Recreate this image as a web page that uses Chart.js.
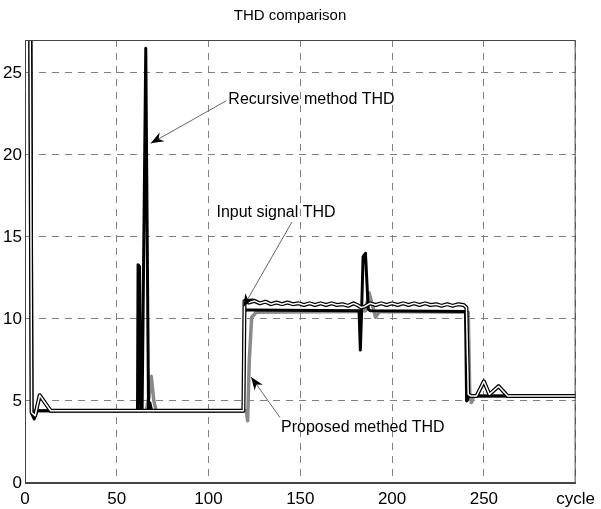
<!DOCTYPE html>
<html>
<head>
<meta charset="utf-8">
<script src="https://cdn.jsdelivr.net/npm/chart.js@4.4.1/dist/chart.umd.min.js"></script>
<style>
  body { margin: 0; background: #fff; }
  canvas { display: block; }
</style>
</head>
<body>
<canvas id="thdChart" width="601" height="509"></canvas>
<script>
// cycle, THD value pairs
const inputThd = [[2.6,35],[3.6,4.3],[5.5,4.1],[8,5.35],[14,4.4],[119,4.4],[119.6,11.1],[122,11.0],[125,11.1],
  [128,10.95],[131,11.05],[134,10.9],[137,11.0],[140,10.9],[143,11.0],[146,10.9],[149,10.95],[152,10.85],[155,10.95],
  [158,10.85],[161,10.95],[164,10.85],[167,10.95],[170,10.85],[173,10.9],[176,10.8],[179,10.95],[181,10.85],[183,10.7],
  [185,10.75],[188,10.95],[191,10.85],[194,10.95],[197,10.85],[200,10.95],[203,10.85],[206,10.95],[209,10.85],[212,10.95],
  [215,10.85],[218,10.95],[221,10.85],[224,10.9],[227,10.8],[230,10.9],[233,10.8],[236,10.9],[239,10.85],[240.5,10.7],
  [241.5,5.4],[243,5.3],[246,5.3],[250,6.2],[253,5.4],[258,5.9],[263,5.3],[300,5.3]];

const recursiveThd = [[3,40],[3.8,4.2],[5,3.9],[6.5,4.4],[61.3,4.4],[61.6,13.3],[62.4,13.2],[63,4.4],[63.8,4.4],
  [65.8,26.5],[67.3,4.5],[68,4.9],[69,4.4],[119,4.4],[119.6,10.5],[121,10.55],[182,10.5],[182.7,8.1],[183.4,10.5],
  [184.2,13.8],[185.5,14.0],[187,10.6],[188,10.5],[240,10.45],[240.6,5.0],[242,5.3],[300,5.3]];

const proposedThd = [[2.2,35],[3.6,4.4],[66,4.4],[67.5,5.2],[68.8,6.5],[70.2,5.0],[71.5,4.4],[120.5,4.4],[121.3,3.8],
  [122.2,7.5],[123.5,10.1],[126,10.4],[182,10.45],[185.5,10.5],[187.5,11.6],[191,10.1],[193,10.45],[241.5,10.4],
  [242.3,5.5],[243.2,4.9],[244.5,5.3],[300,5.3]];

const xTicks = [0, 50, 100, 150, 200, 250, 300];
const yTicks = [0, 5, 10, 15, 20, 25];

// text + arrow (tail -> tip) in data units
const notes = [
  { text: 'Recursive method THD', at: [110.8, 23.35], tail: [109.7, 23.3], tip: [68.5, 20.7] },
  { text: 'Input signal THD', at: [104.3, 16.5], tail: [145.4, 15.9], tip: [118.9, 10.73] },
  { text: 'Proposed methed THD', at: [139.5, 3.4], tail: [138.9, 4.0], tip: [123.2, 6.46] }
];

const toXY = pts => pts.map(p => ({ x: p[0], y: p[1] }));

const boxAndNotes = {
  id: 'boxAndNotes',
  afterDatasetsDraw(chart) {
    const { ctx, chartArea: a, scales: { x, y } } = chart;
    ctx.save();
    ctx.strokeStyle = '#444';
    ctx.lineWidth = 1;
    ctx.strokeRect(a.left + 0.5, a.top + 0.5, a.right - a.left - 1, a.bottom - a.top - 1);

    ctx.font = '16px "Liberation Sans", Arial, sans-serif';
    ctx.fillStyle = '#000';
    ctx.textBaseline = 'middle';
    notes.forEach(n => {
      ctx.fillText(n.text, x.getPixelForValue(n.at[0]), y.getPixelForValue(n.at[1]));
      const x0 = x.getPixelForValue(n.tail[0]), y0 = y.getPixelForValue(n.tail[1]);
      const x1 = x.getPixelForValue(n.tip[0]), y1 = y.getPixelForValue(n.tip[1]);
      ctx.strokeStyle = '#666';
      ctx.lineWidth = 1;
      ctx.beginPath();
      ctx.moveTo(x0, y0);
      ctx.lineTo(x1, y1);
      ctx.stroke();
      const ang = Math.atan2(y1 - y0, x1 - x0);
      const len = 13, half = 5;
      ctx.beginPath();
      ctx.moveTo(x1, y1);
      ctx.lineTo(x1 - len * Math.cos(ang) + half * Math.sin(ang), y1 - len * Math.sin(ang) - half * Math.cos(ang));
      ctx.lineTo(x1 - 0.7 * len * Math.cos(ang), y1 - 0.7 * len * Math.sin(ang));
      ctx.lineTo(x1 - len * Math.cos(ang) - half * Math.sin(ang), y1 - len * Math.sin(ang) + half * Math.cos(ang));
      ctx.closePath();
      ctx.fill();
    });
    ctx.restore();
  }
};

const lineStyle = { pointRadius: 0, tension: 0, fill: false, borderJoinStyle: 'round', borderCapStyle: 'round' };

new Chart(document.getElementById('thdChart'), {
  type: 'line',
  data: {
    datasets: [
      { ...lineStyle, label: 'Input signal THD', data: toXY(inputThd), borderColor: '#fff', borderWidth: 1.5 },
      { ...lineStyle, label: 'Input signal THD edge', data: toXY(inputThd), borderColor: '#000', borderWidth: 4 },
      { ...lineStyle, label: 'Recursive method THD', data: toXY(recursiveThd), borderColor: '#000', borderWidth: 3 },
      { ...lineStyle, label: 'Proposed methed THD', data: toXY(proposedThd), borderColor: '#8a8a8a', borderWidth: 3.5 }
    ]
  },
  options: {
    responsive: false,
    animation: false,
    devicePixelRatio: 1,
    layout: { padding: { right: 21, top: 0, left: 0, bottom: 0 } },
    plugins: {
      legend: { display: false },
      tooltip: { enabled: false },
      title: {
        display: true,
        text: 'THD comparison',
        color: '#000',
        font: { family: '"Liberation Sans", Arial, sans-serif', size: 15, weight: 'normal' },
        padding: { top: 7, bottom: 15 }
      }
    },
    scales: {
      x: {
        type: 'linear',
        min: 0,
        max: 300,
        afterBuildTicks: s => { s.ticks = xTicks.map(v => ({ value: v })); },
        afterFit: s => { s.height = 26; },
        grid: { color: '#808080', lineWidth: 1, drawTicks: false },
        border: { display: true, color: '#444', dash: [7, 6] },
        ticks: {
          color: '#000',
          padding: 6,
          maxRotation: 0,
          font: { family: '"Liberation Sans", Arial, sans-serif', size: 17 },
          callback: v => (v === 300 ? 'cycle' : v)
        }
      },
      y: {
        min: 0,
        max: 27,
        afterBuildTicks: s => { s.ticks = yTicks.map(v => ({ value: v })); },
        afterFit: s => { s.width = 25; },
        grid: { color: '#808080', lineWidth: 1, drawTicks: false },
        border: { display: true, color: '#444', dash: [7, 6] },
        ticks: {
          color: '#000',
          padding: 3,
          font: { family: '"Liberation Sans", Arial, sans-serif', size: 17 }
        }
      }
    }
  },
  plugins: [boxAndNotes]
});
</script>
</body>
</html>
